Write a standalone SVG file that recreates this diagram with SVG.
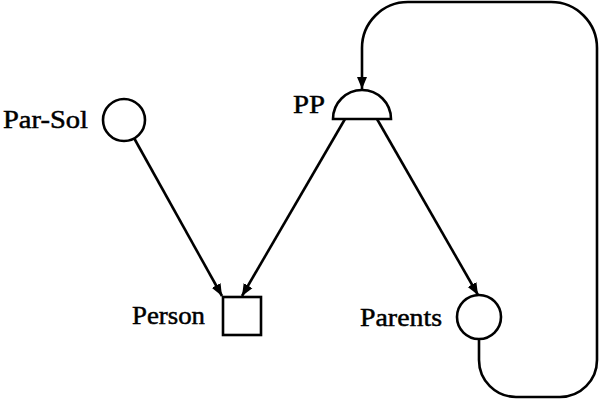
<svg xmlns="http://www.w3.org/2000/svg" width="599" height="402" viewBox="0 0 599 402">
  <style>
    .shape { fill: #fff; stroke: #000; stroke-width: 2.6; }
    .edge { fill: none; stroke: #000; stroke-width: 2.6; }
    .label { font-family: "Liberation Serif", "DejaVu Serif", serif; font-size: 26px; fill: #000; stroke: #000; stroke-width: 0.5; }
  </style>
  <defs>
    <marker id="arrow" markerUnits="userSpaceOnUse" markerWidth="13" markerHeight="11" refX="12" refY="5.5" orient="auto">
      <path d="M0,0.5 L12,5.5 L0,10.5 z" fill="#000"/>
    </marker>
  </defs>

  <g id="connectors">
    <!-- Par-Sol to Person -->
    <path class="edge" d="M134,138 L222,296" marker-end="url(#arrow)"/>
    <!-- PP to Person -->
    <path class="edge" d="M345,119 L242,296" marker-end="url(#arrow)"/>
    <!-- PP to Parents -->
    <path class="edge" d="M377,119 L478,295" marker-end="url(#arrow)"/>
    <!-- Parents back round to PP -->
    <path class="edge" d="M479,339 L479,360 A37,37 0 0 0 516,397 L560,397 A37,37 0 0 0 597,360 L597,48 A46,46 0 0 0 551,2 L408,2 A46,46 0 0 0 362,48 L362,89" marker-end="url(#arrow)"/>
  </g>

  <g id="par-sol">
    <circle class="shape" cx="124" cy="120" r="21"/>
    <text class="label" x="3" y="128" textLength="85" lengthAdjust="spacingAndGlyphs">Par-Sol</text>
  </g>

  <g id="pp">
    <path class="shape" d="M333,119 A29,29 0 0 1 391,119 Z"/>
    <text class="label" x="293" y="113" textLength="32" lengthAdjust="spacingAndGlyphs">PP</text>
  </g>

  <g id="person">
    <rect class="shape" x="223" y="297" width="38" height="38"/>
    <text class="label" x="132" y="324" textLength="73" lengthAdjust="spacingAndGlyphs">Person</text>
  </g>

  <g id="parents">
    <circle class="shape" cx="479" cy="317" r="22"/>
    <text class="label" x="360" y="326" textLength="82" lengthAdjust="spacingAndGlyphs">Parents</text>
  </g>
</svg>
